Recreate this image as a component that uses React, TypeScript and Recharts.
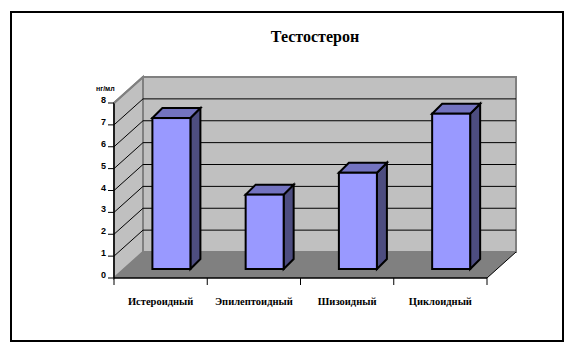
import { BarChart, Bar, XAxis, YAxis, CartesianGrid } from "recharts";

const CATEGORIES = ["Истероидный", "Эпилептоидный", "Шизоидный", "Циклоидный"];
const VALUES = [6.9, 3.4, 4.4, 7.1];
const Y_TICKS = [0, 1, 2, 3, 4, 5, 6, 7, 8];
const TITLE = "Тестостерон";
const UNIT = "нг/мл";

const data = CATEGORIES.map((name, i) => ({ name, value: VALUES[i] }));

const W = 576;
const H = 353;
// back wall = recharts plot area
const PLOT = { left: 143, top: 77, right: 516, bottom: 252 };
// offset from back wall to front edge of the floor / side wall
const DX = -29;
const DY = 26;
// bar front face sits a bit in front of the back wall
const BAR_DX = -18.6;
const BAR_DY = 17;
const BAR_DEPTH = 10;

const WALL = "#c0c0c0";
const FLOOR = "#808080";
const EDGE = "#808080";
const FRONT = "#9999ff";
const TOP = "#7373c0";
const SIDE = "#4d4d80";

const half = (PLOT.right - PLOT.left) / CATEGORIES.length / 2;

function Bar3D(props: any) {
  const { x, y, width, height } = props;
  if (height == null || width == null) return null;
  const X = x + BAR_DX;
  const Y = y + BAR_DY;
  const B = Y + height;
  const d = BAR_DEPTH;
  return (
    <g stroke="#000" strokeWidth={2} strokeLinejoin="miter">
      <polygon points={`${X + width},${Y} ${X + width + d},${Y - d} ${X + width + d},${B - d} ${X + width},${B}`} fill={SIDE} />
      <polygon points={`${X},${Y} ${X + d},${Y - d} ${X + width + d},${Y - d} ${X + width},${Y}`} fill={TOP} />
      <rect x={X} y={Y} width={width} height={height} fill={FRONT} />
    </g>
  );
}

function YTick(props: any) {
  const { y, payload } = props;
  const fy = y + DY;
  const fx = PLOT.left + DX;
  const v = payload.value;
  return (
    <g>
      {v !== 0 && (
        <line x1={fx} y1={fy} x2={PLOT.left} y2={y} stroke={v === 8 ? EDGE : "#000"} strokeWidth={v === 8 ? 2 : 1} />
      )}
      <line x1={fx - 6} y1={fy} x2={fx} y2={fy} stroke="#000" strokeWidth={1} />
      <text x={fx - 8} y={fy} textAnchor="end" fontFamily="Liberation Sans, Arial" fontWeight="bold" fontSize={9} fill="#000">
        {v}
      </text>
    </g>
  );
}

function XTick(props: any) {
  const { x, payload, index } = props;
  const cx = x + DX;
  const fy = PLOT.bottom + DY;
  return (
    <g>
      <line x1={cx - half} y1={fy} x2={cx - half} y2={fy + 7} stroke="#000" />
      {index === CATEGORIES.length - 1 && <line x1={cx + half} y1={fy} x2={cx + half} y2={fy + 7} stroke="#000" />}
      <text x={cx} y={fy + 27} textAnchor="middle" fontFamily="Liberation Serif, Times New Roman" fontWeight="bold" fontSize={10.5} fill="#000">
        {payload.value}
      </text>
    </g>
  );
}

function GridLine(props: any) {
  const { x1, x2, y1, y2 } = props;
  if (Math.abs(y1 - PLOT.top) < 1 || Math.abs(y1 - PLOT.bottom) < 1) return <g />;
  return <line x1={x1} y1={y1} x2={x2} y2={y2} stroke="#000" strokeWidth={1} />;
}

function Backdrop() {
  const fl = PLOT.left + DX;
  const fr = PLOT.right + DX;
  const fb = PLOT.bottom + DY;
  const ft = PLOT.top + DY;
  return (
    <svg width={W} height={H} style={{ position: "absolute", left: 0, top: 0 }}>
      <rect x={11} y={12} width={552} height={329} fill="#fff" stroke="#000" strokeWidth={2} />
      <text x={315} y={42} textAnchor="middle" fontFamily="Liberation Serif, Times New Roman" fontWeight="bold" fontSize={16} fill="#000">
        {TITLE}
      </text>
      <text x={96} y={91} fontFamily="Liberation Sans, Arial" fontWeight="bold" fontSize={7} fill="#000">
        {UNIT}
      </text>
      {/* side wall */}
      <polygon points={`${fl},${ft} ${PLOT.left},${PLOT.top} ${PLOT.left},${PLOT.bottom} ${fl},${fb}`} fill={WALL} stroke={EDGE} strokeWidth={2} />
      {/* back wall */}
      <rect x={PLOT.left} y={PLOT.top} width={PLOT.right - PLOT.left} height={PLOT.bottom - PLOT.top} fill={WALL} stroke={EDGE} strokeWidth={2} />
      {/* floor */}
      <polygon points={`${fl},${fb} ${PLOT.left},${PLOT.bottom} ${PLOT.right},${PLOT.bottom} ${fr},${fb}`} fill={FLOOR} />
      <line x1={fr} y1={fb} x2={PLOT.right} y2={PLOT.bottom} stroke="#000" strokeWidth={1} />
      {/* front axes */}
      <line x1={fl} y1={ft} x2={fl} y2={fb} stroke="#000" strokeWidth={1.5} />
      <line x1={fl} y1={fb} x2={fr} y2={fb} stroke="#000" strokeWidth={1.5} />
    </svg>
  );
}

export default function App() {
  return (
    <div style={{ position: "absolute", left: 0, top: 0, width: W, height: H, background: "#fff" }}>
      <Backdrop />
      <div style={{ position: "absolute", left: 0, top: 0 }}>
        <BarChart width={W} height={H} data={data} margin={{ top: 77, right: 60, left: 103, bottom: 71 }}>
          <CartesianGrid vertical={false} horizontal={<GridLine />} stroke="#000" />
          <XAxis dataKey="name" height={30} axisLine={false} tickLine={false} tick={<XTick />} interval={0} />
          <YAxis width={40} domain={[0, 8]} ticks={Y_TICKS} interval={0} axisLine={false} tickLine={false} tick={<YTick />} />
          <Bar dataKey="value" barSize={38} shape={<Bar3D />} isAnimationActive={false} />
        </BarChart>
      </div>
    </div>
  );
}
